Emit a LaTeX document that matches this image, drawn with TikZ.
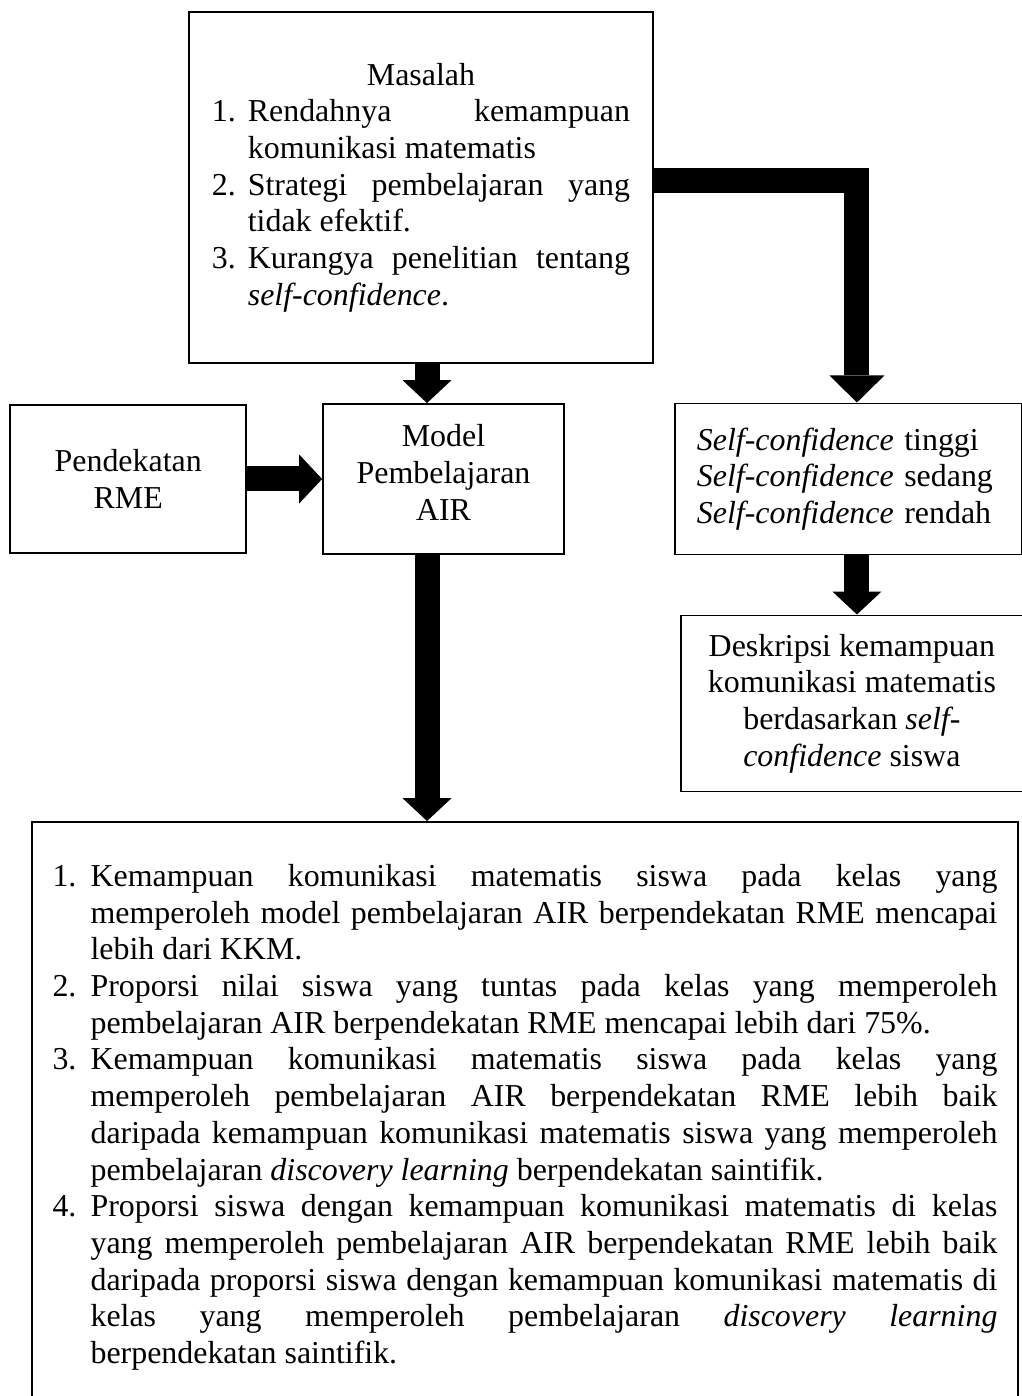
\documentclass[tikz,border=0pt]{standalone}
\usepackage{fontspec}
\setmainfont{Liberation Serif}
\usepackage{tikz}
\usetikzlibrary{positioning,arrows.meta}
\hyphenpenalty=10000
\exhyphenpenalty=10000
\tolerance=10000
\newcounter{butirno}
\newcommand\butirlabel[1]{#1\hfil}
\newenvironment{butir}[1]{%
  \begin{list}{\arabic{butirno}.}{\usecounter{butirno}%
    \setlength\leftmargin{#1}\setlength\labelwidth{#1}\setlength\labelsep{0pt}%
    \setlength\itemsep{0pt}\setlength\parsep{0pt}%
    \setlength\topsep{0pt}\setlength\partopsep{0pt}%
    \let\makelabel\butirlabel}}{\end{list}}
\tikzset{
  kotak/.style ={draw=black, line width=0.7pt, inner sep=0pt,
                 font=\fontsize{12}{13.8}\selectfont},
  blok/.style  ={-{Triangle[length=8.6pt,width=18.4pt,line width=0pt]}, line width=9.4pt},
  blokbesar/.style={-{Triangle[length=10.2pt,width=20.7pt,line width=0pt]}, line width=9.4pt},
}
\begin{document}
\begin{tikzpicture}[x=0.376pt, y=-0.376pt]
\useasboundingbox (0,0) rectangle (1022,1396);
\node[kotak, minimum width=174.5pt, minimum height=132pt, text width=157.2pt, align=justify] (masalah) at (421,187.5) {%
  {\centering Masalah\par}
  \begin{butir}{13.5pt}
  \item Rendahnya kemampuan\linebreak komunikasi matematis
  \item Strategi pembelajaran yang\linebreak tidak efektif.
  \item Kurangya penelitian tentang\linebreak \textit{self-confidence}.
  \end{butir}};
\node[kotak, minimum width=90.6pt, minimum height=56.4pt, align=center, text depth=5pt] (model) at (443.5,479) {Model\\Pembelajaran\\AIR};
\node[kotak, minimum width=88.7pt, minimum height=55.6pt, align=center, left=28.2pt of model] (rme) {Pendekatan\\RME};
\node[kotak, minimum width=130.5pt, minimum height=56.8pt, text width=113.9pt, align=left, right=41pt of model] (sc) {%
  \textit{Self-confidence} tinggi\\\textit{Self-confidence} sedang\\\textit{Self-confidence} rendah};
\node[kotak, minimum width=128.6pt, minimum height=66.2pt, align=center, below=22.2pt of sc, xshift=1.3pt] (desk) {%
  Deskripsi kemampuan\\komunikasi matematis\\berdasarkan \textit{self-}\\\textit{confidence} siswa};
\node[kotak, minimum width=370.7pt, minimum height=216.6pt, text width=355.3pt, align=justify] (hasil) at (525,1110) {%
  \begin{butir}{14.3pt}
  \item Kemampuan komunikasi matematis siswa pada kelas yang\linebreak memperoleh model pembelajaran AIR berpendekatan RME mencapai\linebreak lebih dari KKM.
  \item Proporsi nilai siswa yang tuntas pada kelas yang memperoleh\linebreak pembelajaran AIR berpendekatan RME mencapai lebih dari 75\%.
  \item Kemampuan komunikasi matematis siswa pada kelas yang\linebreak memperoleh pembelajaran AIR berpendekatan RME lebih baik\linebreak daripada kemampuan komunikasi matematis siswa yang memperoleh\linebreak pembelajaran \textit{discovery learning} berpendekatan saintifik.
  \item Proporsi siswa dengan kemampuan komunikasi matematis di kelas\linebreak yang memperoleh pembelajaran AIR berpendekatan RME lebih baik\linebreak daripada proporsi siswa dengan kemampuan komunikasi matematis di\linebreak kelas yang memperoleh pembelajaran \textit{discovery learning}\linebreak berpendekatan saintifik.
  \end{butir}};

\coordinate (kiri) at ([xshift=-6.2pt]model.north);
\coordinate (kanan) at ([xshift=3.2pt]sc.north);
\draw[blok] (kiri |- masalah.south) -- (kiri);
\draw[blok] (rme.east) -- (rme.east -| model.west);
\draw[blokbesar] ([yshift=2.8pt]masalah.east) -| (kanan);
\draw[blok] (kanan |- sc.south) -- (kanan |- desk.north);
\draw[blok] (kiri |- model.south) -- (kiri |- hasil.north);
\end{tikzpicture}
\end{document}
